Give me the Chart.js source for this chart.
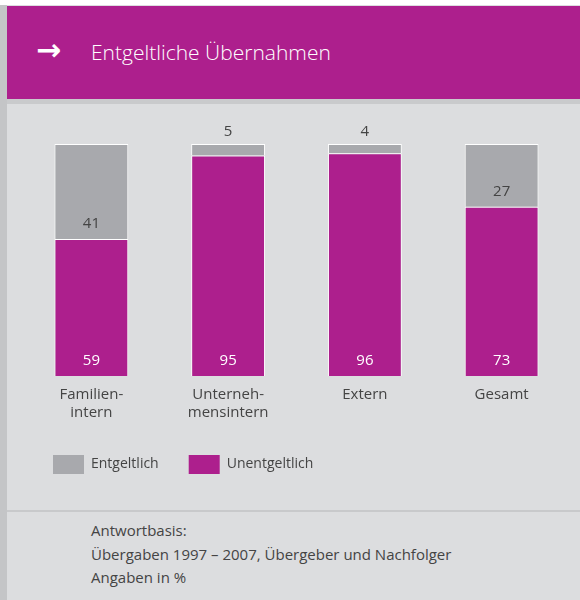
<!DOCTYPE html>
<html>
<head>
<meta charset="utf-8">
<script src="https://cdn.jsdelivr.net/npm/chart.js@4.4.1/dist/chart.umd.min.js"></script>
<style>
  html, body { margin: 0; padding: 0; }
  body { width: 580px; height: 600px; background: #ffffff; position: relative; overflow: hidden;
         font-family: "Open Sans", sans-serif; color: #444; }
  #frame { position: absolute; left: 0; top: 5px; width: 580px; height: 595px; background: #dcdddf; }
  #side { position: absolute; left: 0; top: 5px; width: 7px; height: 595px; background: #c4c5c7; }
  #header { position: absolute; left: 7px; top: 6px; width: 573px; height: 93px; background: #ad1f8d; color: #fff; }
  #header .arrow { position: absolute; left: 29px; top: 29px; font-family: "DejaVu Sans", sans-serif;
                   font-size: 30px; font-weight: bold; line-height: 30px; }
  #header .title { position: absolute; left: 84px; top: 31px; font-size: 21px; font-weight: 300; line-height: 30px; }
  #strip { position: absolute; left: 7px; top: 99px; width: 573px; height: 5px; background: #c9cacc; }
  #chartbox { position: absolute; left: 7px; top: 104px; width: 573px; height: 380px; }
  #divider { position: absolute; left: 7px; top: 510px; width: 573px; height: 2px; background: #c8c9cb; }
  #foot { position: absolute; left: 91px; top: 519px; font-size: 15px; line-height: 23.5px; color: #444; }
</style>
</head>
<body>
<div id="frame"></div>
<div id="side"></div>
<div id="header"><span class="arrow">&#8594;</span><span class="title">Entgeltliche Übernahmen</span></div>
<div id="strip"></div>
<div id="chartbox"><canvas id="chart" width="573" height="380"></canvas></div>
<div id="divider"></div>
<div id="foot">Antwortbasis:<br>Übergaben 1997 – 2007, Übergeber und Nachfolger<br>Angaben in %</div>
<script>
// categories and values (percent)
const categories = [['Familien-', 'intern'], ['Unterneh-', 'mensintern'], 'Extern', 'Gesamt'];
const unentgeltlich = [59, 95, 96, 73];
const entgeltlich = [41, 5, 4, 27];

const magenta = '#ad1f8d';
const grey = '#a8a9ad';

// draws the value labels on the bars
const valueLabels = {
    id: 'valueLabels',
    afterDatasetsDraw(chart) {
        const ctx = chart.ctx;
        ctx.save();
        ctx.font = '15px "Open Sans"';
        ctx.textAlign = 'center';
        ctx.textBaseline = 'middle';
        chart.data.datasets.forEach((ds, i) => {
            chart.getDatasetMeta(i).data.forEach((bar, j) => {
                const h = bar.base - bar.y;
                if (h > 30) {
                    ctx.fillStyle = i === 0 ? '#ffffff' : '#444444';
                    ctx.fillText(ds.data[j], bar.x, bar.base - 15);
                } else {
                    ctx.fillStyle = '#444444';
                    ctx.fillText(ds.data[j], bar.x, bar.y - 12);
                }
            });
        });
        ctx.restore();
    }
};

new Chart(document.getElementById('chart'), {
    type: 'bar',
    data: {
        labels: categories,
        datasets: [
            {
                label: 'Unentgeltlich',
                data: unentgeltlich,
                backgroundColor: magenta,
                borderColor: '#ffffff',
                borderWidth: 1
            },
            {
                label: 'Entgeltlich',
                data: entgeltlich,
                backgroundColor: grey,
                borderColor: '#ffffff',
                borderWidth: 1
            }
        ]
    },
    options: {
        responsive: false,
        animation: false,
        layout: { padding: { left: 16, right: 10, top: 40 } },
        datasets: { bar: { barPercentage: 0.54, categoryPercentage: 1 } },
        plugins: {
            tooltip: { enabled: false },
            legend: {
                position: 'bottom',
                align: 'start',
                reverse: true,
                labels: {
                    boxWidth: 31,
                    boxHeight: 19,
                    padding: 30,
                    color: '#444',
                    font: { family: 'Open Sans', size: 14 },
                    generateLabels(chart) {
                        const items = Chart.defaults.plugins.legend.labels.generateLabels(chart);
                        items.forEach(it => { it.lineWidth = 0; it.strokeStyle = it.fillStyle; });
                        return items;
                    }
                }
            }
        },
        scales: {
            x: {
                stacked: true,
                grid: { display: false },
                border: { display: false },
                ticks: { color: '#444', font: { family: 'Open Sans', size: 15 }, padding: 2, maxRotation: 0 },
                afterFit(scale) { scale.height = 49; }
            },
            y: {
                stacked: true,
                display: false,
                min: 0,
                max: 100
            }
        }
    },
    plugins: [valueLabels]
});
</script>
</body>
</html>
